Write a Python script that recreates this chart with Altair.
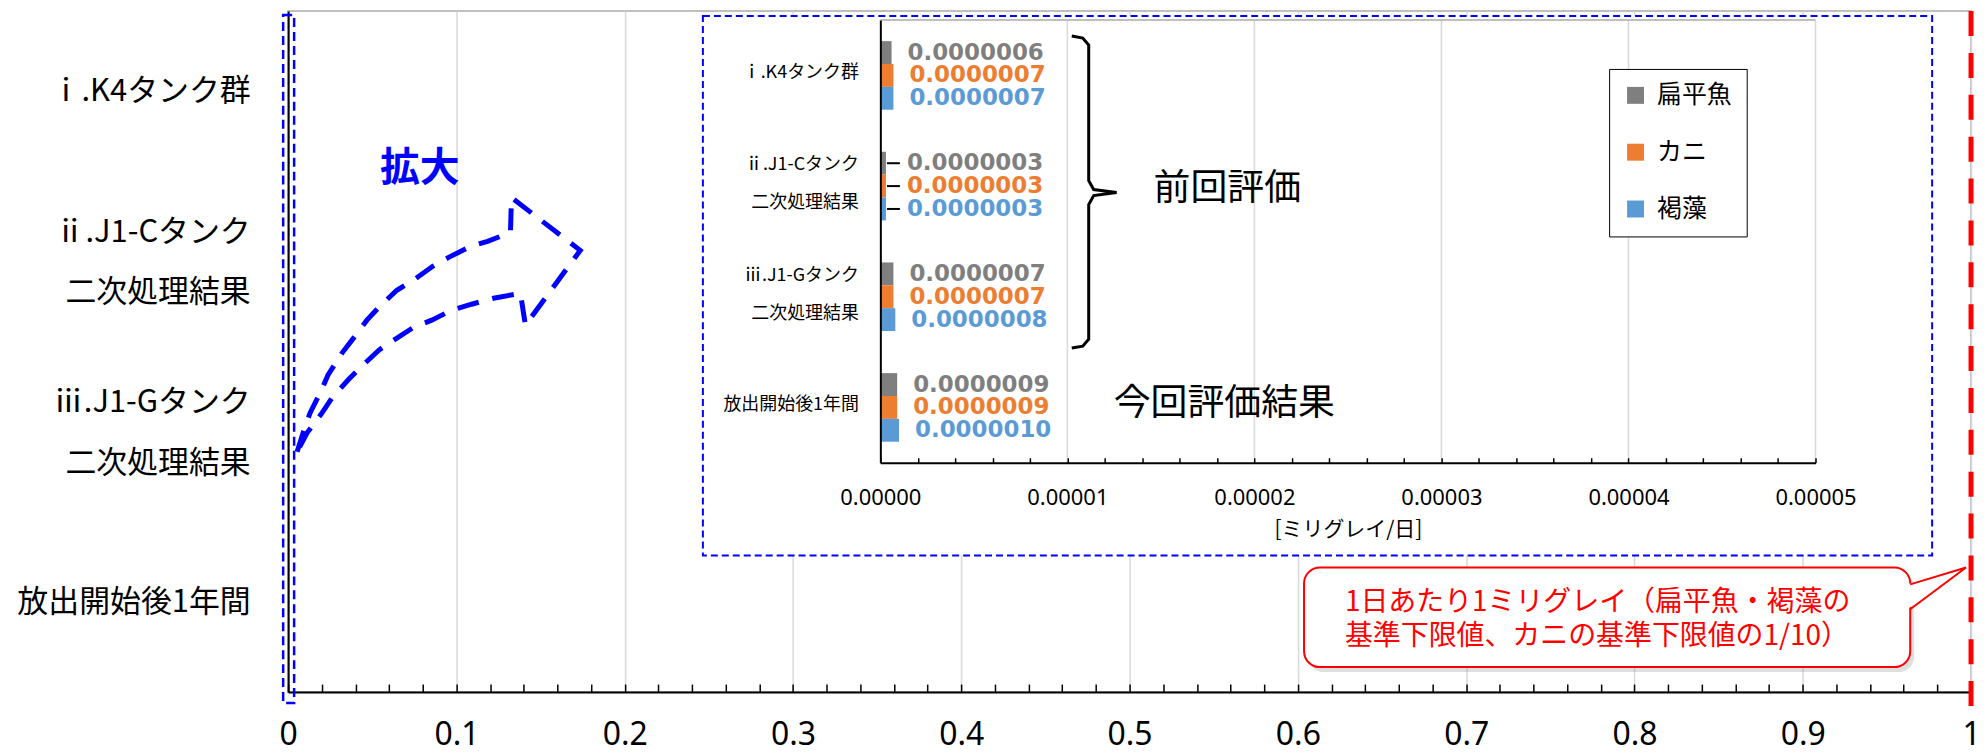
import altair as alt
import pandas as pd

# ---------------- data ----------------
categories = ["ⅰ.K4タンク群", "ⅱ.J1-Cタンク|二次処理結果", "ⅲ.J1-Gタンク|二次処理結果", "放出開始後1年間"]
series_names = ["扁平魚", "カニ", "褐藻"]
series_colors = ["#7f7f7f", "#ed7d31", "#5b9bd5"]
flatfish = [0.0000006, 0.0000003, 0.0000007, 0.0000009]
crab = [0.0000007, 0.0000003, 0.0000007, 0.0000009]
brown_algae = [0.0000007, 0.0000003, 0.0000008, 0.0000010]

main_x_ticks = [round(i * 0.02, 2) for i in range(51)]
inset_x_ticks = [round(i * 0.000002, 7) for i in range(26)]
inset_grid_values = [0.00001, 0.00002, 0.00003, 0.00004, 0.00005]
limit_value = [1.0]

callout_lines = ["1日あたり1ミリグレイ（扁平魚・褐藻の", "基準下限値、カニの基準下限値の1/10）"]
prev_label = "前回評価"
curr_label = "今回評価結果"
zoom_label = "拡大"
inset_axis_title = "[ミリグレイ/日]"

rows = []
for s, vals in zip(series_names, [flatfish, crab, brown_algae]):
    for c, v in zip(categories, vals):
        rows.append({"category": c, "series": s, "value": v})
df = pd.DataFrame(rows)
limit_df = pd.DataFrame({"limit": limit_value})
grid_df = pd.DataFrame({"g": inset_grid_values})
one = pd.DataFrame({"a": [0]})

# ---------------- annotation geometry (plot-relative pixels) ----------------
W, H = 1688, 683
arrow_x = [9, 16, 22, 33, 40, 54, 64, 79, 91, 109, 124, 145, 161, 183, 200, 223,
           224, 293, 238, 233,
           206, 184, 164, 144, 126, 106, 91, 73, 61, 44, 34, 19, 9]
arrow_y = [442, 420, 403, 381, 365, 343, 330, 310, 297, 280, 271, 256, 247, 236, 231, 222,
           187, 240, 315, 283,
           288, 294, 300, 310, 317, 330, 340, 357, 369, 388, 403, 423, 442]
brace_x = [786, 797, 803, 803, 808, 831, 808, 803, 803, 797, 786]
brace_y = [25, 27, 34, 170, 179, 182, 185, 194, 329, 336, 338]
pointer_x = [1627, 1683, 1627]
pointer_y = [575, 558, 600]

arrow_df = pd.DataFrame({"px": arrow_x, "py": arrow_y, "i": range(len(arrow_x))})
brace_df = pd.DataFrame({"px": brace_x, "py": brace_y, "i": range(len(brace_x))})
pointer_df = pd.DataFrame({"px": pointer_x, "py": pointer_y, "i": range(len(pointer_x))})
pointer_fill_df = pd.DataFrame({"px": [1624, 1683], "py": [575, 558], "py2": [600, 558]})

CJK = "Noto Sans CJK JP"
NUM = "Noto Sans"

# ---------------- scales ----------------
main_x = alt.Scale(domain=[0, 1], range=[0, W], nice=False, zero=False)
main_y = alt.Scale(type="band", domain=categories, range=[0, H], paddingInner=0.38, paddingOuter=0.19)
inset_x = alt.Scale(domain=[0, 0.00005], range=[594, 1532], nice=False, zero=False)
inset_y = alt.Scale(type="band", domain=categories, range=[9, 453], paddingInner=0.38, paddingOuter=0.19)
yoff = alt.Scale(type="band", domain=series_names, paddingInner=0, paddingOuter=0)
color_scale = alt.Scale(domain=series_names, range=series_colors)
px_x = alt.Scale(domain=[0, W], range=[0, W], nice=False, zero=False)
px_y = alt.Scale(domain=[0, H], range=[0, H], nice=False, zero=False)

is_main_major = "round(datum.value*100) % 10 == 0"
is_inset_major = "round(datum.value*1000000) % 10 == 0"
is_two_line = "indexof(datum.label, '|') >= 0"

legend = alt.Legend(
    title=None, orient="none", legendX=1325, legendY=58, direction="vertical",
    symbolType="square", symbolSize=289, symbolStrokeWidth=0,
    labelFont=CJK, labelFontSize=25, labelColor="black", labelOffset=9,
    rowPadding=31, padding=14, strokeColor="black", fillColor="white")
color_enc = alt.Color("series:N", scale=color_scale, legend=legend)

# ---------------- main chart ----------------
main_bars = alt.Chart(df).mark_bar().encode(
    x=alt.X("value:Q", scale=main_x, axis=alt.Axis(
        values=main_x_ticks, format=".1~f",
        labelExpr=f"{is_main_major} ? datum.label : ''",
        grid=True, gridColor="#d9d9d9", gridWidth=1.5,
        gridOpacity={"condition": {"test": is_main_major, "value": 1}, "value": 0},
        domainColor="black", domainWidth=2, tickColor="black", tickWidth=1.5,
        tickSize={"expr": "-8"}, labelPadding=36, labelFont=NUM, labelFontSize=32,
        labelColor="black", labelFlush=False, labelOverlap=False, title=None)),
    y=alt.Y("category:N", scale=main_y, axis=alt.Axis(
        title=None, labelExpr="split(datum.label, '|')", labelFont=CJK, labelFontSize=31,
        labelColor="black", labelLineHeight=61, labelPadding=38, ticks=False,
        domainColor="black", domainWidth=2,
        labelOffset={"condition": {"test": is_two_line, "value": -34}, "value": -4},
        grid=False, labelLimit=600)),
    yOffset=alt.YOffset("series:N", scale=yoff),
    color=color_enc,
)

narrow_box = alt.Chart(one).mark_rect(fill=None, stroke="#0000ff", strokeWidth=2.5, strokeDash=[9, 5]).encode(
    x=alt.value(-5), x2=alt.value(6), y=alt.value(4), y2=alt.value(694))

inset_box = alt.Chart(one).mark_rect(fill="white", stroke="#0000ff", strokeWidth=2, strokeDash=[7, 4]).encode(
    x=alt.value(416), x2=alt.value(1649), y=alt.value(5), y2=alt.value(546))

inset_grid = alt.Chart(grid_df).mark_rule(color="#d9d9d9", strokeWidth=1.5).encode(
    x=alt.X("g:Q", scale=inset_x, axis=None), y=alt.value(9), y2=alt.value(453))

inset_top = alt.Chart(one).mark_rule(color="#bfbfbf", strokeWidth=2).encode(
    x=alt.value(594), x2=alt.value(1532), y=alt.value(9))

inset_bars = alt.Chart(df).mark_bar().encode(
    x=alt.X("value:Q", scale=inset_x, axis=alt.Axis(
        orient="bottom", offset=-230, values=inset_x_ticks, format=".5f",
        labelExpr=f"{is_inset_major} ? datum.label : ''", grid=False,
        domainColor="black", domainWidth=2, tickColor="black", tickWidth=1.5,
        tickSize={"expr": "-5"}, labelPadding=30, labelFont=NUM, labelFontSize=22,
        labelColor="black", labelFlush=False, labelOverlap=False,
        title=inset_axis_title, titleFont=CJK, titleFontSize=21, titleFontWeight="normal",
        titleColor="black", titlePadding=10, zindex=1)),
    y=alt.Y("category:N", scale=inset_y, axis=alt.Axis(
        orient="left", offset=-594, title=None, labelExpr="split(datum.label, '|')",
        labelFont=CJK, labelFontSize=18, labelColor="black", labelLineHeight=38,
        labelPadding=22, ticks=False, domainColor="black", domainWidth=2,
        labelOffset={"condition": {"test": is_two_line, "value": -21}, "value": -2},
        grid=False, labelLimit=400, zindex=1)),
    yOffset=alt.YOffset("series:N", scale=yoff),
    color=color_enc,
)

label_enc = dict(
    x=alt.X("value:Q", scale=inset_x, axis=None),
    y=alt.Y("category:N", scale=inset_y, axis=None),
    yOffset=alt.YOffset("series:N", scale=yoff),
    text=alt.Text("value:Q", format=".7f"),
    color=color_enc,
)
labels_a = alt.Chart(df).transform_filter(alt.datum.category != categories[1]).mark_text(
    align="left", baseline="middle", dx=16, font="DejaVu Sans", fontWeight="bold", fontSize=23
).encode(**label_enc)
labels_b = alt.Chart(df).transform_filter(alt.datum.category == categories[1]).mark_text(
    align="left", baseline="middle", dx=21, font="DejaVu Sans", fontWeight="bold", fontSize=23
).encode(**label_enc)
leaders = alt.Chart(df).transform_filter(alt.datum.category == categories[1]).mark_rule(
    color="black", strokeWidth=2, xOffset=1, x2Offset=14
).encode(
    x=alt.X("value:Q", scale=inset_x, axis=None), x2="value:Q",
    y=alt.Y("category:N", scale=inset_y, axis=None),
    yOffset=alt.YOffset("series:N", scale=yoff),
)

brace = alt.Chart(brace_df).mark_line(color="black", strokeWidth=3).encode(
    x=alt.X("px:Q", scale=px_x, axis=None), y=alt.Y("py:Q", scale=px_y, axis=None), order="i:O")

prev_text = alt.Chart(one).mark_text(text=prev_label, font=CJK, fontSize=37, color="black",
                                     align="center", baseline="middle").encode(
    x=alt.value(942), y=alt.value(178))
curr_text = alt.Chart(one).mark_text(text=curr_label, font=CJK, fontSize=37, color="black",
                                     align="center", baseline="middle").encode(
    x=alt.value(939), y=alt.value(394))

arrow = alt.Chart(arrow_df).mark_line(color="#0000ff", strokeWidth=5, strokeDash=[22, 14]).encode(
    x=alt.X("px:Q", scale=px_x, axis=None), y=alt.Y("py:Q", scale=px_y, axis=None), order="i:O")
zoom_text = alt.Chart(one).mark_text(text=zoom_label, font=CJK, fontSize=40, fontWeight="bold",
                                     color="#0000ff", align="center", baseline="middle").encode(
    x=alt.value(132), y=alt.value(158))

callout_shadow = alt.Chart(one).mark_rect(fill="#808080", opacity=0.25, cornerRadius=16).encode(
    x=alt.value(1023), x2=alt.value(1631), y=alt.value(563), y2=alt.value(663))
callout_box = alt.Chart(one).mark_rect(fill="white", stroke="#ff0000", strokeWidth=2, cornerRadius=16).encode(
    x=alt.value(1019), x2=alt.value(1627), y=alt.value(558), y2=alt.value(658))
pointer_fill = alt.Chart(pointer_fill_df).mark_area(color="white", opacity=1).encode(
    x=alt.X("px:Q", scale=px_x, axis=None), y=alt.Y("py:Q", scale=px_y, axis=None),
    y2="py2:Q")
pointer_line = alt.Chart(pointer_df).mark_line(color="#ff0000", strokeWidth=2).encode(
    x=alt.X("px:Q", scale=px_x, axis=None), y=alt.Y("py:Q", scale=px_y, axis=None), order="i:O")
callout_text = alt.Chart(one).mark_text(text=callout_lines, font=CJK, fontSize=28, color="#ff0000",
                                        align="left", baseline="middle", lineHeight=34).encode(
    x=alt.value(1060), y=alt.value(594))

limit_line = alt.Chart(limit_df).mark_rule(color="#ff0000", strokeWidth=5, strokeDash=[25, 17]).encode(
    x=alt.X("limit:Q", scale=main_x, axis=None), y=alt.value(0), y2=alt.value(698))

chart = alt.layer(
    main_bars, narrow_box, inset_box, inset_grid, inset_top, inset_bars, leaders,
    labels_a, labels_b, brace, prev_text, curr_text, arrow, zoom_text,
    callout_shadow, callout_box, pointer_fill, pointer_line, callout_text, limit_line,
).resolve_scale(
    x="independent", y="independent", yOffset="independent"
).properties(
    width=W, height=H,
    autosize=alt.AutoSizeParams(type="none"),
    padding={"left": 281, "top": 2, "right": 8, "bottom": 56},
).configure_view(stroke="#bfbfbf", strokeWidth=2)

chart.save("out.html", embed_options={"renderer": "svg", "actions": False})
